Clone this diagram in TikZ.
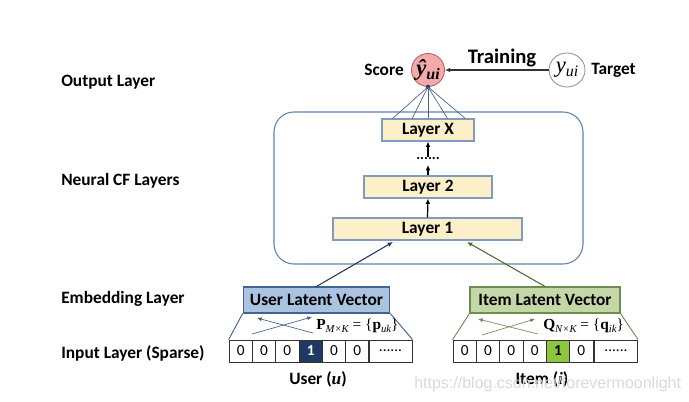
\documentclass[tikz,border=0pt]{standalone}
\usepackage{fontspec}
\setmainfont{Carlito}
\newfontfamily\serif{Liberation Serif}
\newfontfamily\wmfont{Liberation Sans}
\usetikzlibrary{arrows.meta,shapes.geometric,calc}
\definecolor{layerfill}{HTML}{FDF0C8}
\definecolor{layerdraw}{HTML}{7F9CC0}
\definecolor{bigdraw}{HTML}{5F83AB}
\definecolor{navy}{HTML}{203864}
\definecolor{userfill}{HTML}{A9C3E0}
\definecolor{userdraw}{HTML}{41648F}
\definecolor{itemfill}{HTML}{C3D7A7}
\definecolor{itemdraw}{HTML}{6E8C52}
\definecolor{itemarrow}{HTML}{4F6B2C}
\definecolor{onegreen}{HTML}{8CC63F}
\definecolor{scorefill}{HTML}{F4AAAA}
\definecolor{scoredraw}{HTML}{B05A5A}
\tikzset{
  bigfont/.style={font=\fontsize{13}{15}\selectfont\bfseries},
  lbl/.style={bigfont, anchor=west, inner sep=0pt},
  layerbox/.style={draw=layerdraw, fill=layerfill, line width=0.8pt, minimum height=16.5pt, bigfont, inner sep=0pt},
  cell/.style={draw=black!80, line width=0.6pt, minimum width=17.5pt, minimum height=16.5pt, inner sep=0pt, font=\fontsize{11.5}{13}\selectfont},
  dotcell/.style={cell, minimum width=32.5pt},
  arr/.style={-{Latex[length=4pt,width=3.5pt]}, line width=0.9pt},
  thinarr/.style={-{Latex[length=3.5pt,width=3pt]}, line width=0.5pt},
}
\begin{document}
\begin{tikzpicture}[x=0.75pt,y=-0.75pt]
\useasboundingbox (0,0) rectangle (689,402);

% left labels
\node[lbl] (lout) at (61,82) {Output Layer};
\node[lbl] (lncf) at (61,181) {Neural CF Layers};
\node[lbl] (lemb) at (61,299) {Embedding Layer};
\node[lbl] (linp) at (61,353) {Input Layer (Sparse)};

% big rounded box
\draw[bigdraw, line width=0.8pt, rounded corners=15pt] (274,112) rectangle (583,264);

% layers
\node[layerbox, minimum width=69pt] (lx) at (428,130) {Layer X};
\node[layerbox, minimum width=96pt] (l2) at (428,187) {Layer 2};
\node[layerbox, minimum width=141.75pt] (l1) at (427.5,229) {Layer 1};
\node[font=\fontsize{11}{12}\selectfont\bfseries, inner sep=0pt] (dots) at (428,159) {......};

\draw[arr] (l1.north) -- (l2.south);
\draw[arr] (l2.north) -- (428,165);
\draw[arr] (428,157) -- (lx.south);

% score and target
\node[circle, draw=scoredraw, fill=scorefill, line width=0.6pt, minimum size=24.75pt, inner sep=0pt] (score) at (428,70)
  {{\serif\itshape\bfseries\fontsize{17}{17}\selectfont ŷ\raisebox{-3pt}{\fontsize{12}{12}\selectfont ui}}};
\node[ellipse, draw=black!45, fill=white, line width=0.6pt, minimum width=27pt, minimum height=25.5pt, inner sep=0pt] (target) at (567,70)
  {{\serif\itshape\fontsize{17}{17}\selectfont y\raisebox{-3pt}{\fontsize{12}{12}\selectfont ui}}};
\node[bigfont, anchor=east, inner sep=0pt] (scorelbl) at (404,70) {Score};
\node[bigfont, anchor=west, inner sep=0pt] (targetlbl) at (591,70) {Target};
\node[font=\fontsize{15.5}{17}\selectfont\bfseries, inner sep=0pt] (training) at (502,58) {Training};
\draw[-{Latex[length=4pt,width=3.5pt]}, line width=0.8pt, black!80] (target.west) -- (score.east);

% fan from score to layer X
\fill[navy] (score.south) circle (2.2);
\foreach \f in {0.12,0.33,0.5,0.71,0.9}{
  \draw[navy!80, line width=0.5pt] (score.south) -- ($(lx.north west)!\f!(lx.north east)$);
}

% latent vectors
\node[draw=userdraw, fill=userfill, line width=0.8pt, minimum width=110pt, minimum height=19.5pt, inner sep=0pt, bigfont] (ulv) at (316.5,300) {User Latent Vector};
\node[draw=itemdraw, fill=itemfill, line width=0.8pt, minimum width=112.5pt, minimum height=19.5pt, inner sep=0pt, bigfont] (ilv) at (545,300) {Item Latent Vector};

\draw[navy, line width=0.8pt, -{Latex[length=4pt,width=3.5pt]}] (ulv.north) -- (393,242);
\draw[itemarrow, line width=0.8pt, -{Latex[length=4pt,width=3.5pt]}] (ilv.north) -- (467,242);

% user input vector
\foreach \i/\v in {0/0,1/0,2/0,4/0,5/0}{
  \node[cell] (u\i) at ({240.7+23.33*\i},351) {\v};
}
\node[cell, fill=navy, text=white, font=\fontsize{11.5}{13}\selectfont\bfseries] (u3) at ({240.7+23.33*3},351) {1};
\node[dotcell] (u6) at (390.5,351) {......};

% item input vector
\foreach \i/\v in {0/0,1/0,2/0,3/0,5/0}{
  \node[cell] (i\i) at ({464.7+23.33*\i},351) {\v};
}
\node[cell, fill=onegreen, font=\fontsize{11.5}{13}\selectfont\bfseries] (i4) at ({464.7+23.33*4},351) {1};
\node[dotcell] (i6) at (616,351) {......};

% trapezoid lines
\draw[userdraw, line width=0.7pt] (ulv.south west) -- (u0.north west);
\draw[userdraw, line width=0.7pt] (ulv.south east) -- (u6.north east);
\draw[itemdraw, line width=0.7pt] (ilv.south west) -- (i0.north west);
\draw[itemdraw, line width=0.7pt] (ilv.south east) -- (i6.north east);

% cross arrows
\coordinate (ua1) at (252,334); \coordinate (ua2) at (312,317);
\coordinate (ub1) at (313,333); \coordinate (ub2) at (257,318);
\draw[thinarr, userdraw] (ua1) -- (ua2);
\draw[thinarr, userdraw] (ub1) -- (ub2);
\coordinate (ia1) at (482,335); \coordinate (ia2) at (535,319);
\coordinate (ib1) at (538,334); \coordinate (ib2) at (478,319);
\draw[thinarr, itemdraw] (ia1) -- (ia2);
\draw[thinarr, itemdraw] (ib1) -- (ib2);

% matrices
\node[anchor=west, inner sep=0pt, font=\serif\fontsize{11.5}{13}\selectfont] (pm) at (316,326)
  {\textbf{P}\raisebox{-2.5pt}{\fontsize{8}{9}\selectfont\itshape M×K} = \{\textbf{p}\raisebox{-2.5pt}{\fontsize{8}{9}\selectfont\itshape uk}\}};
\node[anchor=west, inner sep=0pt, font=\serif\fontsize{11.5}{13}\selectfont] (qm) at (543,326)
  {\textbf{Q}\raisebox{-2.5pt}{\fontsize{8}{9}\selectfont\itshape N×K} = \{\textbf{q}\raisebox{-2.5pt}{\fontsize{8}{9}\selectfont\itshape ik}\}};

% bottom labels
\node[bigfont, inner sep=0pt] (ulbl) at (318,379) {User ({\serif\itshape\bfseries u})};
\node[bigfont, inner sep=0pt] (ilbl) at (542,379) {Item ({\serif\itshape\bfseries i})};

% watermark
\node[font=\wmfont\fontsize{12}{13}\selectfont, text=black!15, anchor=west, inner sep=0pt] (wm) at (414,384) {https://blog.csdn.net/forevermoonlight};
\end{tikzpicture}
\end{document}
